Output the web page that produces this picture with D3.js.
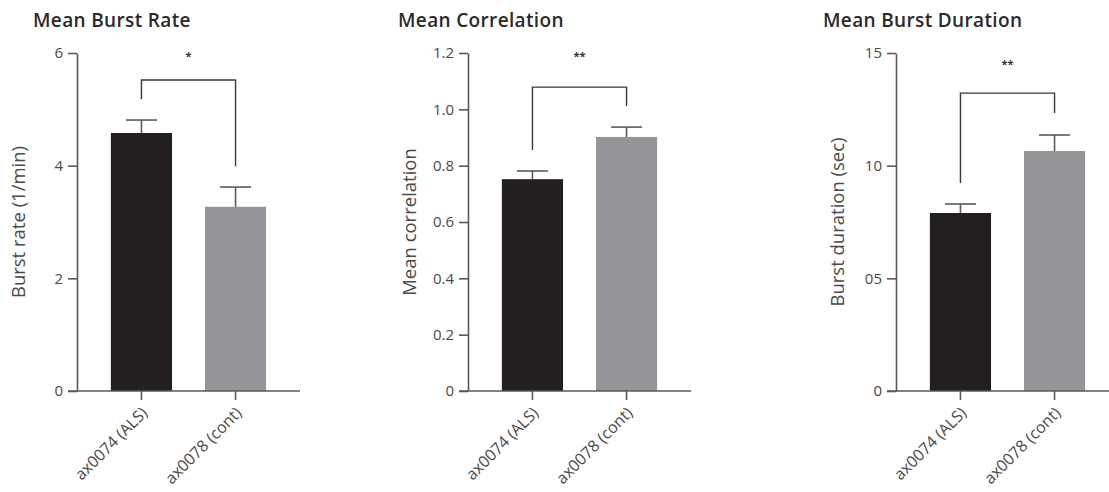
<!DOCTYPE html>
<html>
<head>
<meta charset="utf-8">
<script src="https://cdn.jsdelivr.net/npm/d3@7"></script>
<style>
  html, body { margin: 0; padding: 0; background: #fff; }
  svg { display: block; }
  text { font-family: "Open Sans", Lato, sans-serif; }
</style>
</head>
<body>
<svg id="chart" width="1109" height="492"></svg>
<script>
// ---- data ----
const categories = ["ax0074 (ALS)", "ax0078 (cont)"];
const titles = ["Mean Burst Rate", "Mean Correlation", "Mean Burst Duration"];
const yLabels = ["Burst rate (1/min)", "Mean correlation", "Burst duration (sec)"];

const burstRateMeans = [4.58, 3.27];
const burstRateErr = [0.23, 0.35];
const correlationMeans = [0.752, 0.902];
const correlationErr = [0.029, 0.035];
const durationMeans = [7.9, 10.65];
const durationErr = [0.4, 0.71];

const yMax = [6, 1.2, 15];
const tickValuesRate = [0, 2, 4, 6];
const tickLabelsRate = ["0", "2", "4", "6"];
const tickValuesCorr = [0, 0.2, 0.4, 0.6, 0.8, 1.0, 1.2];
const tickLabelsCorr = ["0", "0.2", "0.4", "0.6", "0.8", "1.0", "1.2"];
const tickValuesDur = [0, 5, 10, 15];
const tickLabelsDur = ["0", "05", "10", "15"];

// significance brackets: [bracket level, left leg bottom, right leg bottom]
const bracketRate = [5.52, 5.18, 3.99];
const bracketCorr = [1.079, 0.856, 1.012];
const bracketDur = [13.22, 9.23, 12.34];
const stars = ["*", "**", "**"];
const starLevel = [5.88, 1.175, 14.33];

const barColors = ["#231f20", "#939598"];

// ---- layout ----
const svg = d3.select("#chart");
const axisXs = [77, 468, 896];
const titleXs = [33, 398, 823];
const plotWidth = 223;
const yTop = 53, yBottom = 391;

const panels = [
  { means: burstRateMeans, err: burstRateErr, tv: tickValuesRate, tl: tickLabelsRate, br: bracketRate },
  { means: correlationMeans, err: correlationErr, tv: tickValuesCorr, tl: tickLabelsCorr, br: bracketCorr },
  { means: durationMeans, err: durationErr, tv: tickValuesDur, tl: tickLabelsDur, br: bracketDur }
];

const axisColor = "#5a5a5a";
const textColor = "#4a4a4a";

panels.forEach((p, i) => {
  const ax = axisXs[i];
  const g = svg.append("g");
  const y = d3.scaleLinear().domain([0, yMax[i]]).range([yBottom, yTop]);
  const x = d3.scaleBand().domain(categories).range([ax, ax + plotWidth])
    .paddingInner(0.35).paddingOuter(0.36);

  // title
  g.append("text")
    .attr("x", titleXs[i]).attr("y", 27)
    .attr("font-size", 19).attr("font-weight", 600)
    .attr("letter-spacing", 0.35)
    .attr("fill", "#2a2a2a")
    .text(titles[i]);

  // bars
  g.selectAll("rect.bar").data(categories).enter().append("rect")
    .attr("class", "bar")
    .attr("x", d => x(d))
    .attr("width", x.bandwidth())
    .attr("y", (d, j) => y(p.means[j]))
    .attr("height", (d, j) => y(0) - y(p.means[j]))
    .attr("fill", (d, j) => barColors[j]);

  // error bars
  const eb = g.selectAll("g.err").data(categories).enter().append("g").attr("class", "err");
  eb.append("line")
    .attr("x1", d => x(d) + x.bandwidth() / 2).attr("x2", d => x(d) + x.bandwidth() / 2)
    .attr("y1", (d, j) => y(p.means[j])).attr("y2", (d, j) => y(p.means[j] + p.err[j]))
    .attr("stroke", axisColor).attr("stroke-width", 1.6);
  eb.append("line")
    .attr("x1", d => x(d) + x.bandwidth() / 2 - 15.5).attr("x2", d => x(d) + x.bandwidth() / 2 + 15.5)
    .attr("y1", (d, j) => y(p.means[j] + p.err[j])).attr("y2", (d, j) => y(p.means[j] + p.err[j]))
    .attr("stroke", axisColor).attr("stroke-width", 1.6);

  // y axis
  const yAxis = d3.axisLeft(y).tickValues(p.tv).tickFormat((d, k) => p.tl[k])
    .tickSize(9).tickPadding(5).tickSizeOuter(0);
  const yg = g.append("g").attr("transform", `translate(${ax},0)`).call(yAxis);
  yg.select(".domain").attr("stroke", axisColor).attr("stroke-width", 1.6);
  yg.selectAll(".tick line").attr("stroke", axisColor).attr("stroke-width", 1.6);
  yg.selectAll(".tick text").attr("font-size", 15).attr("fill", textColor)
    .attr("font-family", "'Open Sans', sans-serif");

  // x axis
  const xAxis = d3.axisBottom(x).tickSize(9).tickSizeOuter(0).tickPadding(4);
  const xg = g.append("g").attr("transform", `translate(0,${yBottom})`).call(xAxis);
  xg.select(".domain").remove();
  xg.append("line").attr("x1", ax - 9).attr("x2", ax + plotWidth)
    .attr("y1", 0).attr("y2", 0).attr("stroke", axisColor).attr("stroke-width", 1.6);
  xg.selectAll(".tick line").attr("stroke", axisColor).attr("stroke-width", 1.6);
  xg.selectAll(".tick text")
    .attr("font-size", 16).attr("fill", textColor)
    .attr("font-family", "'Open Sans', sans-serif")
    .attr("text-anchor", "end")
    .attr("dy", null)
    .attr("transform", "translate(7,23) rotate(-45)")
    .attr("y", 0).attr("x", 0);

  // y label
  g.append("text")
    .attr("transform", `translate(${ax - 52},${(yTop + yBottom) / 2}) rotate(-90)`)
    .attr("text-anchor", "middle")
    .attr("font-size", 18.5).attr("fill", textColor)
    .text(yLabels[i]);

  // bracket
  const cx0 = x(categories[0]) + x.bandwidth() / 2;
  const cx1 = x(categories[1]) + x.bandwidth() / 2;
  const path = d3.path();
  path.moveTo(cx0, y(p.br[1]));
  path.lineTo(cx0, y(p.br[0]));
  path.lineTo(cx1, y(p.br[0]));
  path.lineTo(cx1, y(p.br[2]));
  g.append("path").attr("d", path.toString())
    .attr("fill", "none").attr("stroke", "#3a3a3a").attr("stroke-width", 1.4);

  g.append("text")
    .attr("x", (cx0 + cx1) / 2).attr("y", y(starLevel[i]))
    .attr("text-anchor", "middle")
    .attr("font-size", 11).attr("font-weight", 700).attr("fill", "#333")
    .text(stars[i]);
});
</script>
</body>
</html>
